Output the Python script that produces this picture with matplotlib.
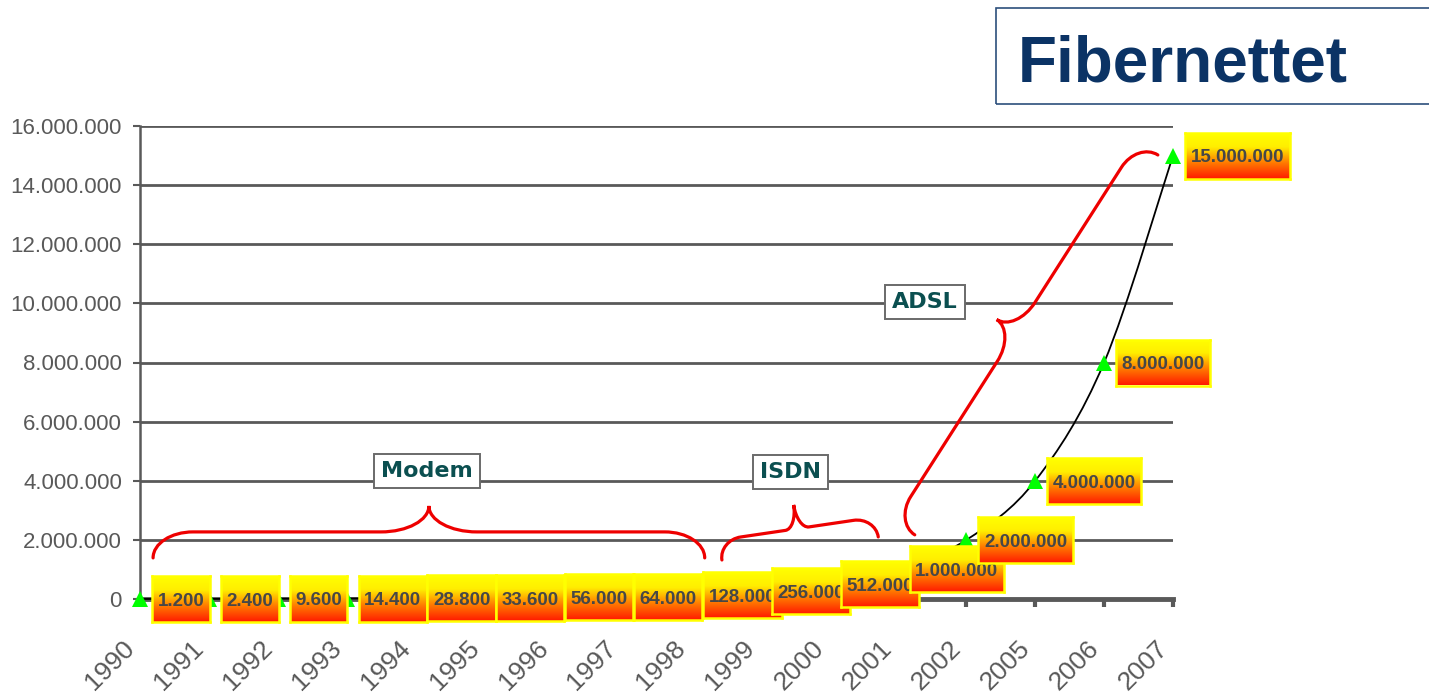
import numpy as np
import matplotlib
matplotlib.use('Agg')
import matplotlib.pyplot as plt
from matplotlib.patches import Rectangle, PathPatch
from matplotlib.path import Path
from matplotlib.colors import LinearSegmentedColormap
from matplotlib.transforms import ScaledTranslation

# ---------------- data ----------------
years = ['1990', '1991', '1992', '1993', '1994', '1995', '1996', '1997',
         '1998', '1999', '2000', '2001', '2002', '2005', '2006', '2007']
speeds = [1200, 2400, 9600, 14400, 28800, 33600, 56000, 64000,
          128000, 256000, 512000, 1000000, 2000000, 4000000, 8000000, 15000000]
y_ticks = [0, 2000000, 4000000, 6000000, 8000000, 10000000, 12000000, 14000000, 16000000]
title = 'Fibernettet'
phases = ['Modem', 'ISDN', 'ADSL']
# phase label centres and brace end points (x index, value)
phase_label_pos = [(4.17, 4.33e6), (9.45, 4.30e6), (11.40, 10.05e6)]
phase_brace_start = [(0.19, 1.39e6), (8.45, 1.32e6), (11.25, 2.17e6)]
phase_brace_end = [(8.20, 1.39e6), (10.72, 2.10e6), (14.78, 15.02e6)]
# brace shape in pixels: (flat offset, tip depth, end radius, tip radius)
brace_shape = [(26, 52, 40, 48), (20, 44, 22, 12), (24, 47, 30, 35)]


def fmt(v):
    return f"{int(v):,}".replace(',', '.')


LAB_FAM, LAB_SIZE = 'Liberation Sans', 13.5

W, H = 1429, 697
fig = plt.figure(figsize=(W / 100, H / 100), dpi=100)
fig.patch.set_facecolor('white')

GRAY = '#595959'
ax = fig.add_axes([140 / W, 98 / H, 1033 / W, 473 / H])
x = np.arange(len(years))
ax.set_xlim(0, len(years) - 1)
ax.set_ylim(0, 16000000)

ax.set_yticks(y_ticks)
ax.set_yticklabels([fmt(v) for v in y_ticks], fontsize=16, color=GRAY,
                   family='Liberation Sans')
ax.set_xticks(x)
ax.set_xticklabels(years, rotation=45, ha='right', va='center',
                   rotation_mode='anchor', fontsize=19, color=GRAY,
                   family='Liberation Sans')
ax.tick_params(axis='x', direction='out', length=6, width=3, color=GRAY, pad=27)
ax.tick_params(axis='y', direction='out', length=5, width=1.5, color=GRAY, pad=8)
off = ScaledTranslation(-9 / 100, 0, fig.dpi_scale_trans)
for lbl in ax.get_xticklabels():
    lbl.set_transform(lbl.get_transform() + off)
for s in ['top', 'right']:
    ax.spines[s].set_visible(False)
ax.spines['left'].set_color(GRAY)
ax.spines['left'].set_linewidth(1.8)
ax.spines['bottom'].set_color(GRAY)
ax.spines['bottom'].set_linewidth(3.5)
ax.spines['bottom'].set_zorder(2.2)
ax.yaxis.grid(True, color=GRAY, lw=2)
ax.set_axisbelow(True)

# smoothed line (Catmull-Rom bezier through the data points)
P = np.column_stack([x, speeds]).astype(float)
Pe = np.vstack([P[0], P, P[-1]])
verts = [tuple(P[0])]
codes = [Path.MOVETO]
t = 1 / 6
for i in range(len(P) - 1):
    p0, p1, p2, p3 = Pe[i], Pe[i + 1], Pe[i + 2], Pe[i + 3]
    c1 = p1 + (p2 - p0) * t
    c2 = p2 - (p3 - p1) * t
    verts += [tuple(c1), tuple(c2), tuple(p2)]
    codes += [Path.CURVE4] * 3
ax.add_patch(PathPatch(Path(verts, codes), fill=False, ec='black', lw=1.3,
                       zorder=3, clip_on=False))
ax.plot(x, speeds, ls='none', marker='^', ms=11, color='#00FF00', mew=0,
        zorder=4, clip_on=False)

# braces
fig.canvas.draw()
inv = ax.transData.inverted()
for (s, e, (a, h, r, r2)) in zip(phase_brace_start, phase_brace_end, brace_shape):
    p0 = ax.transData.transform(s)
    p1 = ax.transData.transform(e)
    d = p1 - p0
    L = np.hypot(*d)
    u = d / L
    v = np.array([-u[1], u[0]])
    k = 0.552
    loc = [(0, 0),
           (0, k * a), (r - k * r, a), (r, a),
           (L / 2 - r2, a),
           (L / 2 - r2 + k * r2, a), (L / 2, h - k * (h - a)), (L / 2, h),
           (L / 2, h - k * (h - a)), (L / 2 + r2 - k * r2, a), (L / 2 + r2, a),
           (L - r, a),
           (L - r + k * r, a), (L, k * a), (L, 0)]
    cds = [Path.MOVETO] + [Path.CURVE4] * 3 + [Path.LINETO] + [Path.CURVE4] * 6 + \
          [Path.LINETO] + [Path.CURVE4] * 3
    disp = np.array([p0 + uu * u + vv * v for uu, vv in loc])
    dat = inv.transform(disp)
    ax.add_patch(PathPatch(Path(dat, cds), fill=False, ec='#EE0000', lw=2.3,
                           zorder=2.6, clip_on=False, capstyle='round'))

for name, (px, py) in zip(phases, phase_label_pos):
    ax.text(px, py, name, ha='center', va='center', fontsize=16,
            fontweight='bold', family='DejaVu Sans', color='#0B4F50', zorder=5,
            bbox=dict(boxstyle='square,pad=0.32', fc='white', ec='#6A6A6A', lw=1.4))

# value label boxes with gradient
cmap = LinearSegmentedColormap.from_list(
    'yr', [(0, '#FF1A00'), (0.35, '#FF7A00'), (0.7, '#FFEE00'), (1, '#FFFF00')])
grad = np.linspace(0, 1, 128).reshape(-1, 1)
renderer = fig.canvas.get_renderer()
BOX_H = 46
cap = 0.72 * LAB_SIZE * 100 / 72
for i, v in enumerate(speeds):
    lab = fmt(v)
    tt = fig.text(0, 0, lab, fontsize=LAB_SIZE, fontweight='bold', family=LAB_FAM)
    tw = tt.get_window_extent(renderer=renderer).width
    tt.remove()
    bw = tw + 11
    xd, yd = ax.transData.transform((x[i], v))
    left = xd + 12
    bax = fig.add_axes([left / W, (yd - BOX_H / 2) / H, bw / W, BOX_H / H])
    bax.set_zorder(10 + i)
    bax.imshow(grad, aspect='auto', cmap=cmap, extent=[0, 1, 0, 1], origin='lower')
    bax.set_xticks([])
    bax.set_yticks([])
    for sp in bax.spines.values():
        sp.set_color('#FFFF00')
        sp.set_linewidth(1.8)
    bax.text(0.5, 0.5 - (cap / 2) / BOX_H, lab, ha='center', va='baseline',
             transform=bax.transAxes, fontsize=LAB_SIZE, fontweight='bold',
             family=LAB_FAM, color='#474747')

# title box
fig.add_artist(Rectangle((996 / W, 1 - 104 / H), 450 / W, 96 / H,
                         transform=fig.transFigure, fill=False,
                         ec='#2C4F7C', lw=1.2))
fig.text(1018 / W, 1 - 82 / H, title, fontsize=46, fontweight='bold',
         color='#0B3365', family='Liberation Sans', va='baseline', ha='left')

fig.savefig('out.png', dpi=100)
